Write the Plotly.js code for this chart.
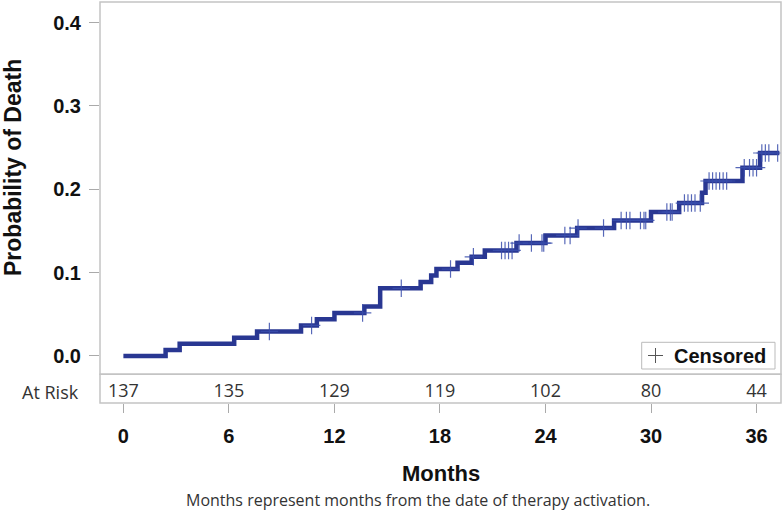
<!DOCTYPE html>
<html>
<head>
<meta charset="utf-8">
<script src="https://cdn.plot.ly/plotly-3.0.1.min.js"></script>
<style>html,body{margin:0;padding:0;background:#fff;}#chart{width:784px;height:518px;}</style>
</head>
<body>
<div id="chart"></div>
<script>
// ---- Data ----
const stepMonths = [0, 2.4, 3.2, 6.3, 7.6, 10.1, 11.0, 12.0, 13.7, 14.6, 16.9, 17.5, 17.8, 19.0, 19.8, 20.55, 22.35, 24.0, 25.8, 27.9, 30.0, 31.6, 32.9, 33.1, 35.2, 36.2];
const deathProb  = [0, 0.0073, 0.0146, 0.022, 0.0294, 0.0367, 0.0440, 0.0517, 0.0595, 0.0812, 0.0887, 0.0965, 0.1043, 0.1120, 0.1190, 0.1267, 0.1355, 0.1447, 0.1535, 0.1627, 0.1727, 0.1835, 0.1960, 0.2100, 0.2260, 0.2436];
const lastFollowUp = 37.3;
const censorMonths = [8.3, 10.7, 13.6, 15.8, 18.6, 19.9, 21.5, 21.7, 21.9, 22.1, 22.5, 23.2, 23.8, 23.9, 25.1, 25.4, 25.85, 27.3, 28.3, 28.6, 28.8, 29.4, 29.6, 29.7, 30.9, 31.1, 31.2, 31.9, 32.1, 32.3, 32.5, 32.8, 33.3, 33.5, 33.7, 33.9, 34.1, 34.3, 35.3, 35.6, 35.8, 36.0, 36.3, 36.5, 36.7, 37.2];
const riskMonths = [0, 6, 12, 18, 24, 30, 36];
const riskCounts = [137, 135, 129, 119, 102, 80, 44];
const yTickVals = [0, 0.1, 0.2, 0.3, 0.4];
const yTickText = ['0.0', '0.1', '0.2', '0.3', '0.4'];
const legendLabel = 'Censored';

// ---- derived ----
function stepValueAt(t) {
  let v = deathProb[0];
  for (let i = 0; i < stepMonths.length; i++) { if (stepMonths[i] <= t) v = deathProb[i]; }
  return v;
}
const lineX = stepMonths.concat([lastFollowUp]);
const lineY = deathProb.concat([deathProb[deathProb.length - 1]]);
const censorY = censorMonths.map(stepValueAt);

// ---- layout geometry (pixels) ----
const W = 784, H = 518;
const L = 100, R = 781, T = 2, B = 403, MID = 374.3;
const px = x => (x - L) / (R - L);
const py = y => (B - y) / (B - T);
const riskTop = py(MID);

const fam = 'Liberation Sans, Arial, sans-serif';
const reg = 'Open Sans, sans-serif';
const navy = '#293792';
const frame = '#c4c4c4';
const censorColor = 'rgba(58,78,172,0.85)';
const boldFont = (s) => ({family: fam, size: s, color: '#111', weight: 'bold'});

const traces = [
  {x: lineX, y: lineY, type: 'scatter', mode: 'lines', xaxis: 'x', yaxis: 'y',
   line: {shape: 'hv', color: navy, width: 4.5}, showlegend: false, hoverinfo: 'skip'},
  {x: censorMonths, y: censorY, type: 'scatter', mode: 'markers', xaxis: 'x', yaxis: 'y', name: legendLabel,
   marker: {symbol: 'cross-thin', size: 12.5, color: censorColor, line: {color: censorColor, width: 1.2}},
   showlegend: false, hoverinfo: 'skip'},
  {x: riskMonths, y: riskMonths.map(() => 0.36), text: riskCounts.map(String), type: 'scatter', mode: 'text',
   xaxis: 'x', yaxis: 'y2', textfont: {family: reg, size: 18, color: '#333'}, showlegend: false, hoverinfo: 'skip'}
];

const layout = {
  width: W, height: H,
  margin: {l: L, r: W - R, t: T, b: H - B, pad: 0},
  paper_bgcolor: '#fff', plot_bgcolor: '#fff',
  showlegend: false,
  xaxis: {domain: [0, 1], anchor: 'y2', range: [-1.33, 37.39], tickvals: riskMonths,
          ticktext: riskMonths.map(String), ticks: 'outside', ticklen: 9, tickcolor: '#aaa',
          ticklabelstandoff: 6,
          tickfont: boldFont(20), showgrid: false, zeroline: false, showline: false, fixedrange: true},
  yaxis: {domain: [riskTop, 1], anchor: 'x', range: [-0.022, 0.4248], tickvals: yTickVals, ticktext: yTickText,
          ticks: 'outside', ticklen: 10, tickcolor: '#aaa', tickfont: boldFont(20), ticklabelstandoff: 4,
          showgrid: false, zeroline: false, showline: false},
  yaxis2: {domain: [0, riskTop], anchor: 'x', range: [0, 1], visible: false},
  shapes: [
    {type: 'rect', xref: 'paper', yref: 'paper', x0: 0, x1: 1, y0: riskTop, y1: 1, line: {color: frame, width: 1.5}},
    {type: 'rect', xref: 'paper', yref: 'paper', x0: 0, x1: 1, y0: 0, y1: riskTop, line: {color: frame, width: 1.5}},
    // legend box and its "+" key
    {type: 'rect', xref: 'paper', yref: 'paper', x0: px(641.7), x1: px(775), y0: py(369), y1: py(342.3),
     line: {color: '#bbb', width: 1}, fillcolor: '#fff'},
    {type: 'line', xref: 'paper', yref: 'paper', x0: px(648), x1: px(663), y0: py(355.5), y1: py(355.5), line: {color: '#555', width: 1}},
    {type: 'line', xref: 'paper', yref: 'paper', x0: px(655.5), x1: px(655.5), y0: py(348), y1: py(363), line: {color: '#555', width: 1}}
  ],
  annotations: [
    {text: legendLabel, xref: 'paper', yref: 'paper', x: px(672), y: py(356), showarrow: false,
     xanchor: 'left', yanchor: 'middle', font: boldFont(20)},
    {text: 'Probability of Death', xref: 'paper', yref: 'paper', x: px(13), y: py(168), textangle: -90,
     showarrow: false, xanchor: 'center', yanchor: 'middle', font: boldFont(23)},
    {text: 'At Risk', xref: 'paper', yref: 'paper', x: px(81), y: py(392), showarrow: false,
     xanchor: 'right', yanchor: 'middle', font: {family: reg, size: 18, color: '#333'}},
    {text: 'Months', xref: 'paper', yref: 'paper', x: px(441), y: py(473), showarrow: false,
     xanchor: 'center', yanchor: 'middle', font: boldFont(22)},
    {text: 'Months represent months from the date of therapy activation.', xref: 'paper', yref: 'paper',
     x: px(418), y: py(500), showarrow: false, xanchor: 'center', yanchor: 'middle',
     font: {family: reg, size: 16, color: '#333'}}
  ]
};

Plotly.newPlot('chart', traces, layout, {staticPlot: true, displayModeBar: false});
</script>
</body>
</html>
